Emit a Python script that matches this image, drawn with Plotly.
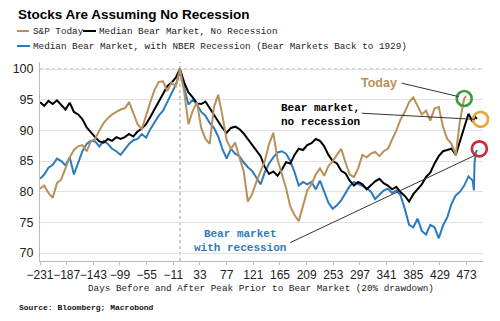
import plotly.graph_objects as go

# ---------------- data ----------------
step_days = list(range(-231, 484, 7))  # -231 .. 483

no_recession = [
    94.6, 94.0, 94.8, 94.3, 94.9, 94.2, 93.4, 94.5, 93.0, 92.6,
    91.8, 90.5, 89.6, 88.9, 88.2, 88.0, 88.6, 88.3, 88.9, 88.6,
    88.9, 89.4, 89.0, 89.8, 90.3, 91.0, 92.2, 93.5, 94.6, 96.0,
    97.2, 97.8, 98.6, 100.0, 97.8, 96.2, 95.4, 94.4, 94.3, 94.7,
    93.6, 92.4, 91.4, 90.4, 89.6, 90.4, 90.6, 90.2, 89.5, 88.6,
    87.7, 86.7, 85.8, 84.0, 82.9, 83.3, 82.6, 83.6, 84.8, 84.6,
    86.0, 87.0, 86.8, 87.6, 87.9, 88.6, 88.3, 87.4, 86.0, 85.0,
    84.6, 83.4, 83.0, 81.8, 81.0, 81.6, 81.2, 80.4, 81.0, 81.7,
    82.1, 81.4, 81.0, 80.4, 80.8, 79.9, 79.3, 78.4, 79.6, 80.4,
    81.2, 82.4, 83.1, 84.6, 85.8, 86.6, 86.8, 87.0, 86.0, 88.2,
    90.4, 92.7, 91.4,
]
no_recession_tail_days = [487, 490]
no_recession_tail = [92.2, 91.9]

with_recession = [
    82.1, 82.8, 83.9, 84.4, 85.4, 85.0, 84.3, 85.6, 82.8, 84.8,
    86.6, 87.8, 88.3, 88.2, 87.4, 88.3, 87.8, 87.0, 86.6, 86.0,
    87.0, 87.8, 88.4, 88.6, 89.4, 88.8, 90.2, 91.4, 92.4, 93.2,
    94.6, 96.0, 97.4, 99.6, 96.8, 94.2, 95.0, 94.2, 93.0, 92.4,
    91.2, 90.4, 89.0, 87.0, 85.4, 87.0, 86.2, 85.8, 84.8, 84.0,
    83.4, 82.2, 81.2, 83.2, 84.6, 85.6, 86.4, 86.6, 86.2, 85.0,
    83.2, 81.0, 81.6, 81.2, 81.6, 80.4, 81.8, 80.0, 78.2, 77.2,
    77.8, 78.6, 79.8, 80.9, 81.6, 81.3, 81.0, 80.6, 80.0, 78.8,
    79.5, 80.2, 80.5, 79.8, 80.2, 79.4, 77.2, 74.6, 74.2, 75.6,
    73.6, 73.0, 74.6, 74.2, 72.4, 74.5, 75.8, 78.0, 79.4, 80.0,
    81.0, 82.5, 81.8,
]
with_recession_tail_days = [485, 486, 488, 490]
with_recession_tail = [80.2, 84.6, 86.3, 86.8]

sp_today = [
    80.5, 81.0, 79.8, 79.0, 81.4, 82.0, 83.8, 85.6, 86.8, 87.4,
    87.6, 86.6, 88.2, 88.6, 90.0, 91.2, 92.0, 92.6, 93.0, 93.4,
    93.6, 94.6, 92.8, 91.0, 90.2, 92.6, 94.6, 96.6, 97.9, 98.0,
    96.4, 97.8, 97.2, 100.0, 96.2, 91.0, 93.2, 94.6, 90.4, 88.6,
    87.8, 93.8, 95.8, 92.4, 88.4, 87.0, 88.0, 85.6, 83.4, 78.4,
    79.6, 81.6, 83.2, 85.0, 87.8, 89.6, 85.2, 83.0, 80.6, 77.6,
    76.2, 75.2, 77.8, 80.2, 81.2, 82.8, 83.8, 82.6, 84.2, 85.0,
    86.0, 87.0, 84.8, 82.8, 82.4, 83.8, 86.0, 85.6, 86.2, 86.5,
    85.8, 86.6, 87.0, 88.4, 90.0, 91.8, 93.0, 94.6, 95.4, 94.0,
    92.6, 93.2, 91.6, 93.6, 93.8, 90.6, 88.6, 87.8, 86.0, 91.6,
    95.2,
]
sp_tail_days = [472]
sp_tail = [95.6]

x_tick_start = -231
x_tick_step = 44

# ---------------- styles ----------------
TAN = "#B8905A"
BLUE = "#2B7BC1"
BLACK = "#000000"
MONO = "Liberation Mono"
SANS = "Liberation Sans"

# plot area in pixels (for placing outside-plot texts)
L, R, T, B = 40, 17, 62, 60
W, H = 500, 321
PW, PH = W - L - R, H - T - B


def px_x(px):
    return (px - L) / PW


def px_y(py):
    return (H - B - py) / PH


sp_days = step_days[:len(sp_today)] + sp_tail_days
sp_vals = sp_today + sp_tail
nr_days = step_days + no_recession_tail_days
nr_vals = no_recession + no_recession_tail
wr_days = step_days + with_recession_tail_days
wr_vals = with_recession + with_recession_tail

fig = go.Figure()
fig.add_trace(go.Scatter(x=wr_days, y=wr_vals, mode="lines",
                         line=dict(color=BLUE, width=2), name="with"))
fig.add_trace(go.Scatter(x=nr_days, y=nr_vals, mode="lines",
                         line=dict(color=BLACK, width=2), name="no"))
fig.add_trace(go.Scatter(x=sp_days, y=sp_vals, mode="lines",
                         line=dict(color=TAN, width=2), name="sp"))

# circles at series ends
circle_specs = [
    (sp_days[-1] - 3, sp_vals[-1] - 0.4, "#3E9C3E"),
    (nr_days[-1] + 6, nr_vals[-1] - 0.1, "#E9A63A"),
    (wr_days[-1] + 4, wr_vals[-1] + 0.2, "#CC2A3C"),
]
for cx, cy, col in circle_specs:
    fig.add_trace(go.Scatter(
        x=[cx], y=[cy], mode="markers", cliponaxis=False,
        marker=dict(symbol="circle", size=15, color="rgba(0,0,0,0)",
                    line=dict(color=col, width=2.7)),
        hoverinfo="skip"))

shapes = []
# callout lines (data coordinates)
shapes.append(dict(type="line", xref="x", yref="y", x0=366, y0=97.7,
                   x1=sp_days[-1] - 12, y1=sp_vals[-1] - 0.1,
                   line=dict(color="#333", width=1)))
shapes.append(dict(type="line", xref="x", yref="y", x0=300, y0=92.8,
                   x1=nr_days[-1] - 4, y1=nr_vals[-1] - 0.1,
                   line=dict(color="#333", width=1)))
shapes.append(dict(type="line", xref="x", yref="y", x0=182, y0=71.7,
                   x1=wr_days[-1] - 4, y1=wr_vals[-1] - 0.9,
                   line=dict(color="#333", width=1)))
# day 0 vertical dotted line
shapes.append(dict(type="line", xref="x", yref="paper", x0=0, x1=0, y0=0, y1=1,
                   line=dict(color="#999", width=1, dash="dot"), layer="below"))
# 100 dotted line
shapes.append(dict(type="line", xref="paper", yref="y", x0=0, x1=1, y0=100, y1=100,
                   line=dict(color="#999", width=1, dash="dot"), layer="below"))
# legend samples
shapes.append(dict(type="line", xref="paper", yref="paper",
                   x0=px_x(17), x1=px_x(29), y0=px_y(31), y1=px_y(31),
                   line=dict(color=TAN, width=2)))
shapes.append(dict(type="line", xref="paper", yref="paper",
                   x0=px_x(83), x1=px_x(96), y0=px_y(31), y1=px_y(31),
                   line=dict(color=BLACK, width=2)))
shapes.append(dict(type="line", xref="paper", yref="paper",
                   x0=px_x(17), x1=px_x(30), y0=px_y(46), y1=px_y(46),
                   line=dict(color=BLUE, width=2)))

annotations = [
    dict(text="<b>Stocks Are Assuming No Recession</b>", xref="paper", yref="paper",
         x=px_x(16), y=px_y(14), xanchor="left", yanchor="middle", showarrow=False,
         font=dict(family=SANS, size=13.5, color="#000")),
    dict(text="S&P Today", xref="paper", yref="paper",
         x=px_x(31), y=px_y(31), xanchor="left", yanchor="middle", showarrow=False,
         font=dict(family=MONO, size=9.3, color="#222")),
    dict(text="Median Bear Market, No Recession", xref="paper", yref="paper",
         x=px_x(97), y=px_y(31), xanchor="left", yanchor="middle", showarrow=False,
         font=dict(family=MONO, size=9.3, color="#222")),
    dict(text="Median Bear Market, with NBER Recession (Bear Markets Back to 1929)",
         xref="paper", yref="paper",
         x=px_x(31), y=px_y(46), xanchor="left", yanchor="middle", showarrow=False,
         font=dict(family=MONO, size=9.3, color="#222")),
    dict(text="Days Before and After Peak Prior to Bear Market (20% drawdown)",
         xref="paper", yref="paper",
         x=px_x(261), y=px_y(288), xanchor="center", yanchor="middle", showarrow=False,
         font=dict(family=MONO, size=9.3, color="#222")),
    dict(text="<b>Source: Bloomberg; Macrobond</b>", xref="paper", yref="paper",
         x=px_x(17), y=px_y(307), xanchor="left", yanchor="middle", showarrow=False,
         font=dict(family=MONO, size=8, color="#111")),
    dict(text="<b>Today</b>", xref="paper", yref="paper",
         x=px_x(399), y=px_y(83), xanchor="right", yanchor="middle", showarrow=False,
         font=dict(family=SANS, size=12.5, color=TAN)),
    dict(text="<b>Bear market,<br>no recession</b>", xref="paper", yref="paper",
         x=px_x(279), y=px_y(115), xanchor="left", yanchor="middle", showarrow=False,
         align="left", font=dict(family=MONO, size=11, color="#000")),
    dict(text="<b>Bear market<br>with recession</b>", xref="paper", yref="paper",
         x=px_x(240), y=px_y(241), xanchor="center", yanchor="middle", showarrow=False,
         align="center", font=dict(family=MONO, size=11, color=BLUE)),
]

fig.update_layout(
    width=W, height=H,
    margin=dict(l=L, r=R, t=T, b=B),
    paper_bgcolor="white", plot_bgcolor="white",
    showlegend=False,
    shapes=shapes,
    annotations=annotations,
    xaxis=dict(range=[-231, 500], tick0=x_tick_start, dtick=x_tick_step,
               tickmode="linear", tickangle=0, showgrid=False, zeroline=False,
               showline=True, linecolor="#bbb", linewidth=1,
               ticks="outside", ticklen=3, tickcolor="#bbb",
               tickfont=dict(family=SANS, size=12, color="#222")),
    yaxis=dict(range=[68.7, 101.15], tickvals=[70, 75, 80, 85, 90, 95, 100],
               showgrid=True, gridcolor="#e2e2e2", gridwidth=1, zeroline=False,
               showline=True, linecolor="#bbb", linewidth=1, ticks="",
               ticklabelstandoff=3,
               tickfont=dict(family=SANS, size=12.5, color="#222")),
)

fig.write_html("out.html")
